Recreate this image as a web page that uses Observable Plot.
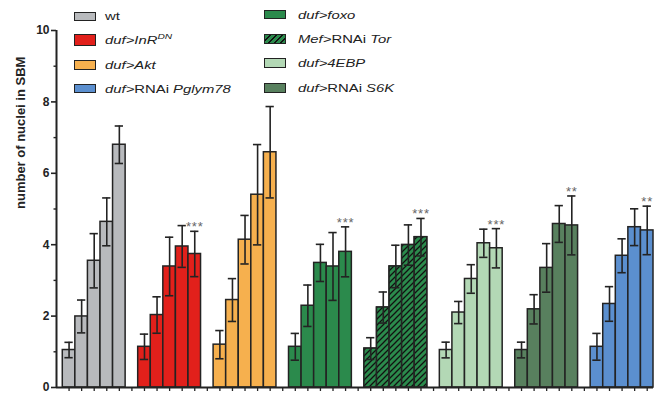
<!DOCTYPE html>
<html>
<head>
<meta charset="utf-8">
<script src="https://cdn.jsdelivr.net/npm/d3@7"></script>
<script src="https://cdn.jsdelivr.net/npm/@observablehq/plot@0.6"></script>
<style>
  html, body { margin: 0; padding: 0; background: #fff; }
  #wrap { position: relative; width: 654px; height: 394px; font-family: "Liberation Sans", Arial, sans-serif; }
  #legend { position: absolute; left: 0; top: 0; width: 654px; height: 100px; pointer-events: none; }
  .sw { position: absolute; width: 22px; border: 1.5px solid #222; box-sizing: border-box; }
  .lbl { position: absolute; white-space: nowrap; font-size: 11.7px; color: #222; transform: scaleX(1.27); transform-origin: left center; line-height: 16px; }
  .lbl i { font-style: italic; }
  .lbl sup { font-size: 8px; vertical-align: 0; position: relative; top: -5px; }
  .stars text { letter-spacing: 0.8px; }
</style>
</head>
<body>
<div id="wrap"></div>
<script>
// ---- data ----
const groups = ["wt", "duf>InR DN", "duf>Akt", "duf>foxo", "Mef>RNAi Tor", "duf>4EBP", "duf>RNAi S6K", "duf>RNAi Pglym78"];
const colors = ["#b8babd", "#e2201b", "#f6b04e", "#2b8a4c", "#2b8a4c", "#b3d8b5", "#58805e", "#5b8fcf"];
const hatched = [false, false, false, false, true, false, false, false];
const means = [
  [1.05, 1.99, 3.55, 4.64, 6.80],
  [1.14, 2.03, 3.39, 3.95, 3.74],
  [1.20, 2.45, 4.14, 5.40, 6.59],
  [1.14, 2.29, 3.49, 3.39, 3.80],
  [1.09, 2.24, 3.39, 3.99, 4.21],
  [1.05, 2.10, 3.04, 4.04, 3.90],
  [1.05, 2.19, 3.35, 4.58, 4.54],
  [1.14, 2.34, 3.69, 4.49, 4.40]
];
const sems = [
  [0.215, 0.46, 0.76, 0.67, 0.525],
  [0.355, 0.51, 0.82, 0.585, 0.635],
  [0.395, 0.60, 0.68, 1.405, 1.28],
  [0.375, 0.58, 0.52, 0.95, 0.70],
  [0.305, 0.435, 0.595, 0.565, 0.525],
  [0.22, 0.31, 0.40, 0.395, 0.55],
  [0.22, 0.41, 0.68, 0.515, 0.825],
  [0.375, 0.485, 0.475, 0.515, 0.68]
];
const stars = ["", "***", "", "***", "***", "***", "**", "**"];
const yTicks = [0, 2, 4, 6, 8, 10];
const yMinorTicks = [1, 3, 5, 7, 9];
const yLabel = "number of nuclei in SBM";

// ---- table ----
const perGroup = 5, slotsPerGroup = 6;
const rows = [];
groups.forEach((g, gi) => {
  means[gi].forEach((m, j) => {
    rows.push({
      group: g, gi, j,
      s: gi * slotsPerGroup + j,
      mean: m,
      lo: m - sems[gi][j],
      hi: m + sems[gi][j],
      color: colors[gi],
      hatched: hatched[gi],
      star: j === perGroup - 1 ? stars[gi] : ""
    });
  });
});
const nSlots = groups.length * slotsPerGroup - 1;
const slotCenters = d3.range(nSlots + 1).map(i => i + 0.5);
const x0 = -0.5;
const ink = "#232323";

const chart = Plot.plot({
  width: 654,
  height: 394,
  marginLeft: 56,
  marginRight: 1,
  marginTop: 30,
  marginBottom: 7,
  style: { fontFamily: "'Liberation Sans', Arial, sans-serif", background: "white", color: ink },
  x: { type: "linear", domain: [x0, nSlots], label: null },
  y: { domain: [0, 10], label: null },
  color: { type: "identity" },
  marks: [
    Plot.rectY(rows, { x1: "s", x2: d => d.s + 1, y: "mean", fill: "color", stroke: ink, strokeWidth: 1.5 }),
    Plot.rectY(rows.filter(d => d.hatched), { x1: "s", x2: d => d.s + 1, y: "mean", fill: "url(#hatch)", stroke: ink, strokeWidth: 1.5 }),
    Plot.ruleX(rows, { x: d => d.s + 0.5, y1: "lo", y2: "hi", stroke: ink, strokeWidth: 1.6 }),
    Plot.ruleY(rows, { y: "hi", x1: d => d.s + 0.5 - 0.33, x2: d => d.s + 0.5 + 0.33, stroke: ink, strokeWidth: 1.6 }),
    Plot.ruleY(rows, { y: "lo", x1: d => d.s + 0.5 - 0.33, x2: d => d.s + 0.5 + 0.33, stroke: ink, strokeWidth: 1.6 }),
    Plot.text(rows.filter(d => d.star), { x: d => d.s + 0.5, y: "hi", text: "star", lineAnchor: "bottom", fontSize: 13, fill: "#666", className: "stars" }),
    Plot.axisY({ ticks: yTicks, tickSize: 5, tickPadding: 2, fontSize: 12, fontWeight: "bold", strokeWidth: 1.6, label: null, stroke: ink, fill: ink }),
    Plot.axisY({ ticks: yMinorTicks, tickSize: 2.5, tickFormat: () => "", strokeWidth: 1.4, label: null, stroke: ink }),
    Plot.axisX({ ticks: slotCenters, tickSize: 4, tickFormat: () => "", strokeWidth: 1.3, label: null, stroke: ink }),
    Plot.ruleY([0], { x1: x0, x2: nSlots, stroke: ink, strokeWidth: 2 }),
    Plot.ruleX([x0], { y1: 0, y2: 10, stroke: ink, strokeWidth: 2 }),
    Plot.text([yLabel], { frameAnchor: "left", rotate: -90, dx: -35.5, fontSize: 13, fontWeight: "bold", fill: ink })
  ]
});

// hatch pattern
const defs = d3.select(chart).insert("defs", ":first-child");
const pat = defs.append("pattern").attr("id", "hatch").attr("patternUnits", "userSpaceOnUse").attr("width", 6).attr("height", 6);
pat.append("rect").attr("width", 6).attr("height", 6).attr("fill", colors[4]);
pat.append("path").attr("d", "M-1,1 L1,-1 M0,6 L6,0 M5,7 L7,5").attr("stroke", "#111").attr("stroke-width", 1.3);

const wrap = document.getElementById("wrap");
wrap.appendChild(chart);

// legend (HTML overlay)
const legendItems = [
  { html: "wt", gi: 0, x: 74, tx: 105, y: 16, h: 9 },
  { html: "<i>duf&gt;InR<sup>DN</sup></i>", gi: 1, x: 74, tx: 105, y: 40, h: 12 },
  { html: "<i>duf&gt;Akt</i>", gi: 2, x: 74, tx: 105, y: 64.5, h: 10 },
  { html: "<i>duf&gt;</i>RNAi <i>Pglym78</i>", gi: 7, x: 74, tx: 105, y: 88.5, h: 9 },
  { html: "<i>duf&gt;foxo</i>", gi: 3, x: 264, tx: 298, y: 14.5, h: 9 },
  { html: "<i>Mef&gt;</i>RNAi <i>Tor</i>", gi: 4, x: 264, tx: 298, y: 38.5, h: 10 },
  { html: "<i>duf&gt;4EBP</i>", gi: 5, x: 264, tx: 298, y: 63, h: 10 },
  { html: "<i>duf&gt;</i>RNAi <i>S6K</i>", gi: 6, x: 264, tx: 298, y: 87.5, h: 10 }
];
const legend = document.createElement("div");
legend.id = "legend";
legendItems.forEach(it => {
  const sw = document.createElement("div");
  sw.className = "sw";
  sw.style.left = it.x + "px";
  sw.style.top = (it.y - it.h / 2) + "px";
  sw.style.height = it.h + "px";
  if (hatched[it.gi]) {
    sw.style.background = `repeating-linear-gradient(135deg, ${colors[it.gi]} 0 3px, #111 3px 4.3px)`;
  } else {
    sw.style.background = colors[it.gi];
  }
  legend.appendChild(sw);
  const t = document.createElement("div");
  t.className = "lbl";
  t.style.left = it.tx + "px";
  t.style.top = (it.y - 8) + "px";
  t.innerHTML = it.html;
  legend.appendChild(t);
});
wrap.appendChild(legend);
</script>
</body>
</html>
